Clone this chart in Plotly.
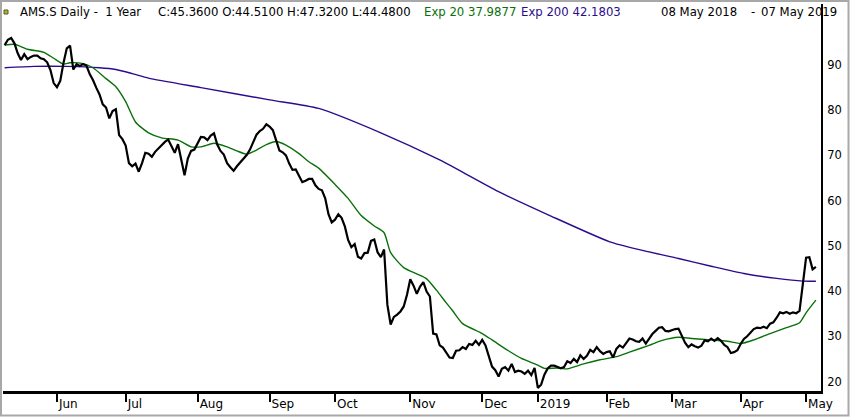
import pandas as pd
import plotly.graph_objects as go

# SIX trading calendar, 08 May 2018 - 07 May 2019 (exchange holidays left out)
holidays = ["2018-05-10", "2018-05-21", "2018-08-01", "2018-12-24", "2018-12-25",
            "2018-12-26", "2018-12-31", "2019-01-01", "2019-01-02", "2019-04-19",
            "2019-04-22", "2019-05-01"]
dates = pd.bdate_range("2018-05-08", "2019-05-07")
dates = dates[~dates.isin(pd.to_datetime(holidays))]

# daily close of AMS.S, one value per session
close = [
    94.4, 95.6, 96.0, 94.8, 92.6, 91.1, 92.4, 91.3, 91.8, 92.1,
    92.1, 91.5, 91.3, 90.6, 88.9, 86.0, 85.1, 86.5, 90.5, 93.7,
    94.3, 89.0, 90.2, 89.8, 90.2, 89.9, 88.0, 86.7, 85.0, 83.5,
    81.3, 80.6, 78.2, 79.8, 80.2, 74.5, 73.6, 72.2, 68.3, 67.6,
    68.2, 66.4, 68.3, 70.6, 70.4, 69.7, 70.8, 71.6, 72.2, 73.0,
    73.5, 72.0, 70.6, 72.5, 69.0, 65.6, 69.3, 71.0, 71.3, 72.9,
    74.1, 74.0, 73.4, 74.4, 74.9, 72.4, 71.0, 70.2, 68.3, 67.4,
    66.6, 67.6, 68.4, 69.3, 70.1, 71.3, 72.8, 74.6, 75.4, 75.9,
    76.9, 76.4, 75.6, 73.5, 71.1, 70.7, 70.0, 68.2, 66.8, 66.9,
    65.6, 64.1, 64.4, 64.8, 64.8, 63.4, 62.6, 62.3, 60.5, 57.0,
    55.2, 55.8, 57.0, 56.2, 54.3, 51.3, 49.7, 50.4, 47.6, 47.2,
    48.4, 48.5, 51.1, 51.4, 48.6, 47.5, 49.2, 37.0, 32.6, 34.3,
    34.8, 35.5, 36.6, 39.2, 42.6, 41.2, 39.4, 41.0, 42.0, 39.9,
    38.8, 30.6, 30.4, 28.0, 27.5, 26.3, 25.3, 25.2, 26.8, 26.9,
    27.6, 27.2, 28.3, 28.1, 29.0, 28.1, 29.2, 28.0, 25.8, 23.3,
    22.5, 21.1, 22.8, 23.2, 22.4, 23.9, 22.1, 22.4, 22.2, 21.7,
    22.4, 21.4, 23.0, 18.6, 19.3, 21.5, 22.9, 23.5, 23.5, 23.2,
    22.9, 23.2, 24.5, 24.1, 25.0, 24.3, 25.8, 25.0, 25.7, 27.0,
    26.5, 27.6, 26.7, 26.1, 26.5, 26.7, 25.3, 27.2, 28.0, 27.5,
    28.6, 29.5, 29.3, 28.9, 28.8, 29.5, 28.4, 29.6, 30.5, 31.2,
    31.9, 32.0, 31.2, 31.1, 31.4, 31.6, 31.7, 30.3, 28.6, 27.6,
    28.2, 27.8, 27.5, 27.9, 29.1, 28.9, 29.5, 29.0, 29.6, 29.0,
    28.1, 27.6, 26.3, 26.5, 26.9, 28.3, 29.4, 30.0, 30.8, 31.6,
    31.9, 31.8, 32.1, 31.8, 32.8, 33.1, 34.1, 35.3, 35.1, 35.4,
    35.0, 35.3, 35.1, 35.6, 41.5, 47.4, 47.5, 44.8, 45.36,
]
assert len(close) == len(dates)

# moving averages, read at some sessions (session number from 08 May 2018)
ema20_day = [0, 3, 7, 12, 15, 18, 20, 24, 27, 31, 34, 37, 40, 44, 48, 53, 57, 60, 64, 68,
             71, 74, 77, 80, 83, 86, 90, 93, 96, 101, 105, 109, 113, 116, 118, 122, 126, 129,
             132, 135, 137, 140, 146, 149, 154, 158, 163, 165, 169, 172, 177, 182, 187, 191,
             197, 201, 206, 210, 216, 221, 225, 229, 234, 239, 243, 245, 248]
ema20_val = [94.4, 94.6, 93.5, 92.8, 91.5, 90.2, 90.5, 90.3, 89.4, 87.0, 85.2, 81.9, 77.4,
             75.0, 73.9, 73.4, 71.9, 71.9, 72.7, 71.9, 71.0, 70.3, 71.2, 72.4, 73.1, 72.3,
             70.4, 68.6, 67.2, 63.6, 60.5, 56.7, 54.4, 52.9, 48.5, 45.2, 43.8, 42.7, 40.2,
             37.4, 35.6, 32.8, 30.6, 29.2, 26.8, 25.1, 23.6, 22.9, 23.0, 22.8, 23.9, 24.8,
             25.5, 26.5, 28.0, 29.1, 29.8, 29.5, 29.2, 28.9, 28.4, 29.2, 30.6, 31.9, 33.0,
             35.2, 37.9877]
ema200_day = [0, 9, 19, 29, 34, 39, 44, 60, 81, 96, 115, 133, 139, 151, 167, 185, 195, 206,
              216, 226, 236, 244, 248]
ema200_val = [89.4, 89.7, 89.7, 89.4, 89.0, 88.1, 87.1, 85.0, 82.3, 80.4, 75.0, 69.0, 66.7,
              62.0, 56.6, 50.9, 49.0, 47.2, 45.5, 43.9, 42.8, 42.2, 42.1803]

month_ticks = ["2018-06-01", "2018-07-02", "2018-08-02", "2018-09-03", "2018-10-01",
               "2018-11-01", "2018-12-03", "2019-01-03", "2019-02-01", "2019-03-01",
               "2019-04-01", "2019-05-02"]
month_text = ["Jun", "Jul", "Aug", "Sep", "Oct", "Nov", "Dec", "2019", "Feb", "Mar", "Apr", "May"]
price_ticks = [20, 30, 40, 50, 60, 70, 80, 90]

GREEN = "#0a700a"
PURPLE = "#2c0c8c"
FONT = "DejaVu Sans"

W, H = 850, 417
ML, MR, MT, MB = 3, 29, 4, 26


def px(x):
    return (x - ML) / (W - ML - MR)


def py(y):
    return (H - MB - y) / (H - MT - MB)


fig = go.Figure()
fig.add_trace(go.Scatter(x=dates[ema200_day], y=ema200_val, mode="lines",
                         line=dict(color=PURPLE, width=1.4, shape="spline", smoothing=0.6)))
fig.add_trace(go.Scatter(x=dates[ema20_day], y=ema20_val, mode="lines",
                         line=dict(color=GREEN, width=1.4, shape="spline", smoothing=0.6)))
fig.add_trace(go.Scatter(x=dates, y=close, mode="lines",
                         line=dict(color="black", width=2.2)))

# header line
header = [
    ("AMS.S Daily -  1 Year", 18, "black", "left"),
    ("C:45.3600 O:44.5100 H:47.3200 L:44.4800", 156, "black", "left"),
    ("Exp 20 37.9877", 422, GREEN, "left"),
    ("Exp 200 42.1803", 519, PURPLE, "left"),
    ("08 May 2018", 659, "black", "left"),
    ("-", 753, "black", "center"),
    ("07 May 2019", 839, "black", "right"),
]
for txt, x, col, anchor in header:
    fig.add_annotation(text=txt, x=px(x), y=py(12), xref="paper", yref="paper",
                       xanchor=anchor, yanchor="middle", showarrow=False,
                       font=dict(family=FONT, size=11.7, color=col))

# little marker square and the outer frame
fig.add_shape(type="rect", xref="paper", yref="paper",
              x0=px(4), x1=px(8), y0=py(14), y1=py(10),
              line=dict(color="#5a5a20", width=1), fillcolor="#b0b040")
fig.add_shape(type="rect", xref="paper", yref="paper",
              x0=px(1), x1=px(848.5), y0=py(415.5), y1=py(1),
              line=dict(color="#a8a8a8", width=2))

fig.update_layout(
    width=W, height=H,
    margin=dict(l=ML, r=MR, t=MT, b=MB),
    paper_bgcolor="white", plot_bgcolor="white",
    showlegend=False,
    font=dict(family=FONT, color="black"),
    xaxis=dict(
        type="date",
        range=["2018-05-07 12:00", "2019-05-08 13:30"],
        rangebreaks=[dict(bounds=["sat", "mon"]), dict(values=holidays)],
        tickvals=month_ticks, ticktext=month_text,
        ticklabelposition="outside right",
        ticks="outside", ticklen=8, tickwidth=1.5, tickcolor="black",
        tickfont=dict(family=FONT, size=12, color="black"),
        showline=True, linecolor="black", linewidth=2.5,
        showgrid=False, zeroline=False, fixedrange=True,
    ),
    yaxis=dict(
        side="right",
        range=[17.9, 103.5],
        tickvals=price_ticks,
        ticks="",
        ticklabelstandoff=2,
        tickfont=dict(family=FONT, size=11.5, color="black"),
        showline=True, linecolor="black", linewidth=2,
        showgrid=False, zeroline=False, fixedrange=True,
    ),
)

# the page body keeps its default 8px margin otherwise
fig.write_html("out.html", config={"displayModeBar": False},
               post_script="document.body.style.margin='0';document.body.style.overflow='hidden';")
